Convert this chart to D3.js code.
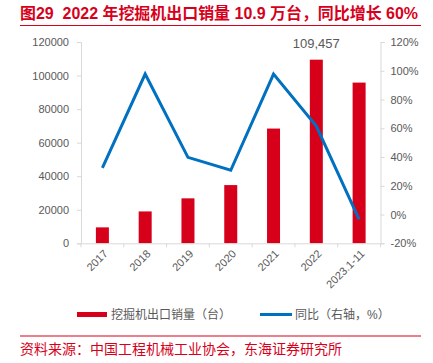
<!DOCTYPE html>
<html>
<head>
<meta charset="utf-8">
<script src="https://cdn.jsdelivr.net/npm/d3@7"></script>
<style>
  body { margin: 0; background: #fff; }
  text { font-family: "Liberation Sans", Arial, "Noto Sans CJK SC", sans-serif; }
</style>
</head>
<body>
<div id="chart"></div>
<script>
// data
var years = ["2017", "2018", "2019", "2020", "2021", "2022", "2023.1-11"];
var exportSales = [9500, 19000, 26800, 34700, 68400, 109457, 95800];
var growth = [32.4, 97.7, 39.8, 30.8, 97.7, 61.5, -3.3];
var leftTicks = [0, 20000, 40000, 60000, 80000, 100000, 120000];
var rightTicks = [-20, 0, 20, 40, 60, 80, 100, 120];

var W = 433, H = 363;
var red = "#d7001b", blue = "#0070c0", grey = "#595959", axisCol = "#d9d9d9";
var cjk = "\"Liberation Sans\", \"Noto Sans CJK SC\", sans-serif";

var svg = d3.select("#chart").append("svg")
    .attr("width", W)
    .attr("height", H);

// title
svg.append("text")
    .attr("x", 20)
    .attr("y", 19)
    .style("font-size", "16px")
    .style("font-weight", "bold")
    .style("font-family", cjk)
    .attr("fill", red)
    .attr("xml:space", "preserve")
    .attr("textLength", 398)
    .attr("lengthAdjust", "spacingAndGlyphs")
    .text("图29  2022 年挖掘机出口销量 10.9 万台，同比增长 60%");

svg.append("line")
    .attr("x1", 20).attr("x2", 421)
    .attr("y1", 25.5).attr("y2", 25.5)
    .attr("stroke", red).attr("stroke-width", 1);

var plotLeft = 81, plotRight = 380.5, plotTop = 42, plotBottom = 243.3;

var x = d3.scaleBand().domain(years).range([plotLeft, plotRight]);
var y = d3.scaleLinear().domain([0, 120000]).range([plotBottom, plotTop]);
var y2 = d3.scaleLinear().domain([-20, 120]).range([plotBottom, plotTop]);

// bars
svg.selectAll(".bar")
    .data(years)
    .enter().append("rect")
    .attr("class", "bar")
    .attr("x", function(d) { return x(d) + x.bandwidth() / 2 - 6.5; })
    .attr("width", 13)
    .attr("y", function(d, i) { return y(exportSales[i]); })
    .attr("height", function(d, i) { return plotBottom - y(exportSales[i]); })
    .attr("fill", red);

// value label for 2022
svg.append("text")
    .attr("x", x("2022") + x.bandwidth() / 2)
    .attr("y", 48)
    .attr("text-anchor", "middle")
    .style("font-size", "13px")
    .attr("fill", grey)
    .text(d3.format(",")(exportSales[5]));

// growth line
var line = d3.line()
    .x(function(d, i) { return x(years[i]) + x.bandwidth() / 2; })
    .y(function(d) { return y2(d); });

svg.append("path")
    .datum(growth)
    .attr("d", line)
    .attr("fill", "none")
    .attr("stroke", blue)
    .attr("stroke-width", 3);

// axes
function styleAxis(g) {
    g.select(".domain").attr("stroke", axisCol);
    g.selectAll(".tick line").attr("stroke", axisCol);
    g.selectAll(".tick text").attr("fill", grey).style("font-size", "11px")
        .style("font-family", "\"Liberation Sans\", Arial, sans-serif");
}

svg.append("g")
    .attr("transform", "translate(" + plotLeft + ",0)")
    .call(d3.axisLeft(y).tickValues(leftTicks).tickSize(4).tickSizeOuter(4).tickPadding(8)
        .tickFormat(d3.format("d")))
    .call(styleAxis);

svg.append("g")
    .attr("transform", "translate(" + plotRight + ",0)")
    .call(d3.axisRight(y2).tickValues(rightTicks).tickSize(4).tickSizeOuter(4).tickPadding(6)
        .tickFormat(function(d) { return d + "%"; }))
    .call(styleAxis);

var xAxis = svg.append("g")
    .attr("transform", "translate(0," + plotBottom + ")")
    .call(d3.axisBottom(x).tickSize(0).tickSizeOuter(0))
    .call(styleAxis);

// tick marks at band edges
xAxis.selectAll(".edge")
    .data(years.concat(["end"]))
    .enter().append("line")
    .attr("x1", function(d, i) { return plotLeft + i * x.step(); })
    .attr("x2", function(d, i) { return plotLeft + i * x.step(); })
    .attr("y1", 0).attr("y2", 4)
    .attr("stroke", axisCol);

xAxis.selectAll(".tick text")
    .attr("text-anchor", "end")
    .attr("dy", 0)
    .attr("transform", "translate(4,9) rotate(-45)");

// legend
svg.append("rect")
    .attr("x", 77).attr("y", 312)
    .attr("width", 30).attr("height", 5)
    .attr("fill", red);
svg.append("text")
    .attr("x", 111).attr("y", 319)
    .style("font-size", "12px")
    .style("font-family", cjk)
    .attr("fill", grey)
    .text("挖掘机出口销量（台）");

svg.append("line")
    .attr("x1", 260).attr("x2", 292)
    .attr("y1", 314.5).attr("y2", 314.5)
    .attr("stroke", blue).attr("stroke-width", 3);
svg.append("text")
    .attr("x", 295).attr("y", 319)
    .style("font-size", "12px")
    .style("font-family", cjk)
    .attr("fill", grey)
    .text("同比（右轴，%）");

// source
svg.append("line")
    .attr("x1", 20).attr("x2", 421)
    .attr("y1", 336).attr("y2", 336)
    .attr("stroke", red).attr("stroke-width", 1);

svg.append("text")
    .attr("x", 20).attr("y", 354)
    .style("font-size", "14px")
    .style("font-family", cjk)
    .attr("fill", red)
    .text("资料来源：中国工程机械工业协会，东海证券研究所");
</script>
</body>
</html>
